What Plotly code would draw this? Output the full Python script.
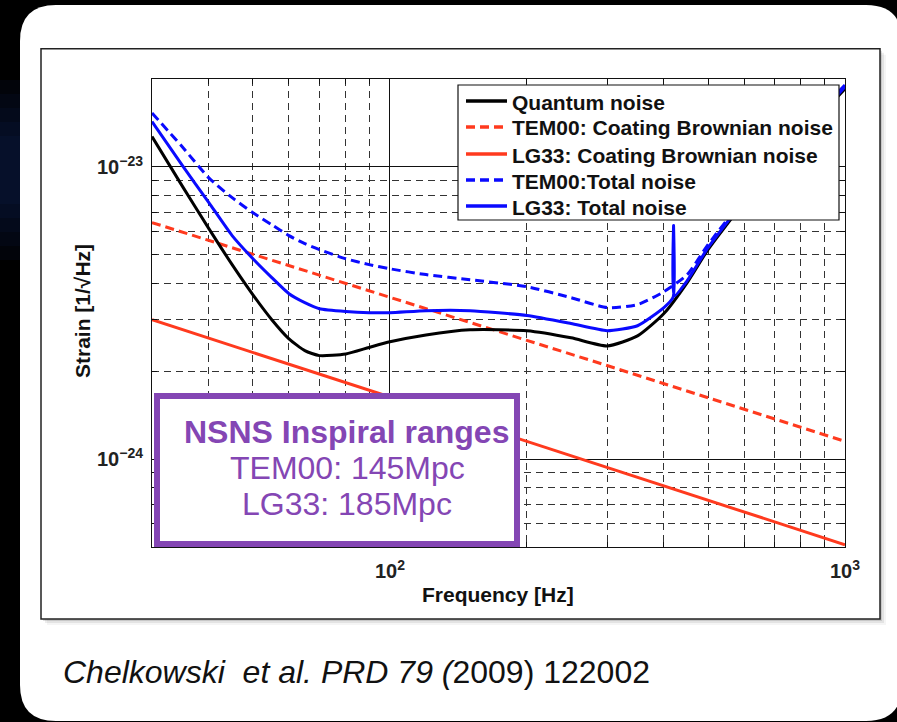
import plotly.graph_objects as go
import math

# ---------------- data ----------------
freq = [30, 35, 40, 45, 50, 55, 60, 65, 70, 80, 90, 100, 120, 150, 200, 250,
        300, 350, 400, 450, 500, 600, 700, 800, 900, 1000]
quantum = [1.27e-23, 8.58e-24, 6.15e-24, 4.63e-24, 3.65e-24, 3.00e-24, 2.58e-24,
           2.35e-24, 2.26e-24, 2.29e-24, 2.41e-24, 2.52e-24, 2.66e-24, 2.77e-24,
           2.75e-24, 2.60e-24, 2.44e-24, 2.64e-24, 3.15e-24, 4.02e-24, 5.21e-24,
           7.55e-24, 9.87e-24, 1.26e-23, 1.55e-23, 1.85e-23]
tem00_total = [1.53e-23, 1.17e-23, 9.17e-24, 7.85e-24, 6.97e-24, 6.34e-24, 5.82e-24,
               5.46e-24, 5.21e-24, 4.85e-24, 4.63e-24, 4.48e-24, 4.28e-24, 4.11e-24,
               3.89e-24, 3.57e-24, 3.30e-24, 3.38e-24, 3.74e-24, 4.28e-24, 5.42e-24,
               7.79e-24, 1.02e-23, 1.30e-23, 1.60e-23, 1.91e-23]

lg33_freq = [30, 35, 40, 45, 50, 55, 60, 65, 70, 80, 90, 100, 120, 150, 200, 250,
             300, 350, 400, 419, 420, 421, 450, 500, 600, 700, 800, 900, 1000]
lg33_total = [1.43e-23, 1.01e-23, 7.55e-24, 5.82e-24, 4.85e-24, 4.18e-24, 3.68e-24,
              3.43e-24, 3.27e-24, 3.20e-24, 3.17e-24, 3.17e-24, 3.22e-24, 3.22e-24,
              3.10e-24, 2.91e-24, 2.75e-24, 2.86e-24, 3.30e-24, 3.58e-24, 6.30e-24,
              3.61e-24, 4.08e-24, 5.29e-24, 7.67e-24, 1.00e-23, 1.28e-23, 1.57e-23,
              1.88e-23]

coat_freq = [30, 100, 300, 1000]
tem00_coating = [6.45e-24, 3.58e-24, 2.09e-24, 1.15e-24]
lg33_coating = [3.00e-24, 1.63e-24, 9.35e-25, 5.09e-25]

legend_labels = ["Quantum noise", "TEM00: Coating Brownian noise",
                 "LG33: Coating Brownian noise", "TEM00:Total noise",
                 "LG33: Total noise"]
x_tickvals = [100, 1000]
x_ticktext = ["<b>10<sup>2</sup></b>", "<b>10<sup>3</sup></b>"]
y_tickvals = [1e-24, 1e-23]
y_ticktext = ["<b>10<sup>\u221224</sup></b>", "<b>10<sup>\u221223</sup></b>"]
x_minor = [40, 50, 60, 70, 80, 90, 200, 300, 400, 500, 600, 700, 800, 900]
y_minor = [6e-25, 7e-25, 8e-25, 9e-25, 2e-24, 3e-24, 4e-24, 5e-24, 6e-24, 7e-24,
           8e-24, 9e-24]

# ---------------- layout geometry ----------------
W, H = 897, 722
ML, MR, MT, MB = 152, 52, 79, 175
PW, PH = W - ML - MR, H - MT - MB
FONT = "Liberation Sans, Arial, sans-serif"

def X(px):
    return (px - ML) / PW

def Y(py):
    return (H - MB - py) / PH

BLACK = "#000000"
RED = "#ff3a1e"
BLUE = "#0a0aff"
PURPLE = "#8446b4"
DASH = "9px,5px"

fig = go.Figure()
fig.add_trace(go.Scatter(x=coat_freq, y=lg33_coating, mode="lines",
                         line=dict(color=RED, width=3), showlegend=False))
fig.add_trace(go.Scatter(x=coat_freq, y=tem00_coating, mode="lines",
                         line=dict(color=RED, width=3, dash=DASH), showlegend=False))
fig.add_trace(go.Scatter(x=freq, y=quantum, mode="lines",
                         line=dict(color=BLACK, width=3, shape="spline", smoothing=0.6),
                         showlegend=False))
fig.add_trace(go.Scatter(x=freq, y=tem00_total, mode="lines",
                         line=dict(color=BLUE, width=3, dash=DASH, shape="spline",
                                   smoothing=0.6), showlegend=False))
fig.add_trace(go.Scatter(x=lg33_freq, y=lg33_total, mode="lines",
                         line=dict(color=BLUE, width=3, shape="spline", smoothing=0.5),
                         showlegend=False))

shapes = []

def rrect_path(x0, y0, x1, y1, r):
    return (f"M {X(x0+r)},{Y(y0)} L {X(x1-r)},{Y(y0)} Q {X(x1)},{Y(y0)} {X(x1)},{Y(y0+r)} "
            f"L {X(x1)},{Y(y1-r)} Q {X(x1)},{Y(y1)} {X(x1-r)},{Y(y1)} "
            f"L {X(x0+r)},{Y(y1)} Q {X(x0)},{Y(y1)} {X(x0)},{Y(y1-r)} "
            f"L {X(x0)},{Y(y0+r)} Q {X(x0)},{Y(y0)} {X(x0+r)},{Y(y0)} Z")

# faint blue glow on left edge of the dark background
for i in range(5):
    shapes.append(dict(type="rect", xref="paper", yref="paper", layer="below",
                       x0=X(0), x1=X(22), y0=Y(80 + 14 * i), y1=Y(260 - 14 * i),
                       fillcolor="rgba(25,50,140,0.07)", line=dict(width=0)))
# white card (right side runs off the page, rounded corners top/bottom right)
shapes.append(dict(type="path", xref="paper", yref="paper", layer="below",
                   path=rrect_path(20, 5, 902, 721, 36),
                   fillcolor="white", line=dict(width=0)))
shapes.append(dict(type="rect", xref="paper", yref="paper", layer="below",
                   x0=X(860), x1=X(905), y0=Y(42), y1=Y(684),
                   fillcolor="white", line=dict(width=0)))
# figure box shadow
for off, a in [(6, 0.04), (4, 0.07), (2, 0.12)]:
    shapes.append(dict(type="rect", xref="paper", yref="paper", layer="below",
                       x0=X(41 + off), x1=X(880 + off), y0=Y(48.7 + off), y1=Y(619 + off),
                       fillcolor=f"rgba(0,0,0,{a})", line=dict(width=0)))
# figure box
shapes.append(dict(type="rect", xref="paper", yref="paper", layer="below",
                   x0=X(41), x1=X(880), y0=Y(48.7), y1=Y(619),
                   fillcolor="white", line=dict(color="#222", width=1.5)))

# NSNS box
shapes.append(dict(type="rect", xref="paper", yref="paper", layer="above",
                   x0=X(157), x1=X(517), y0=Y(396), y1=Y(544),
                   fillcolor="white", line=dict(color=PURPLE, width=6)))

# legend box
shapes.append(dict(type="rect", xref="paper", yref="paper", layer="above",
                   x0=X(458), x1=X(839), y0=Y(85), y1=Y(220),
                   fillcolor="white", line=dict(color="#111", width=1.2)))
leg_rows = [101, 127, 154, 180, 206]
leg_styles = [(BLACK, "solid"), (RED, DASH), (RED, "solid"), (BLUE, DASH), (BLUE, "solid")]
annotations = []
for row, (col, dash), lab in zip(leg_rows, leg_styles, legend_labels):
    shapes.append(dict(type="line", xref="paper", yref="paper", layer="above",
                       x0=X(466), x1=X(507), y0=Y(row), y1=Y(row),
                       line=dict(color=col, width=3.5, dash=dash)))
    annotations.append(dict(xref="paper", yref="paper", x=X(510), y=Y(row + 1),
                            xanchor="left", yanchor="middle", showarrow=False,
                            text=f"<b>{lab}</b>",
                            font=dict(family=FONT, size=21, color="#111")))

# NSNS text
annotations.append(dict(xref="paper", yref="paper", x=X(346), y=Y(432), showarrow=False,
                        xanchor="center", yanchor="middle",
                        text="<b>NSNS Inspiral ranges</b>",
                        font=dict(family=FONT, size=32, color=PURPLE)))
annotations.append(dict(xref="paper", yref="paper", x=X(347), y=Y(468), showarrow=False,
                        xanchor="center", yanchor="middle", text="TEM00: 145Mpc",
                        font=dict(family=FONT, size=32, color=PURPLE)))
annotations.append(dict(xref="paper", yref="paper", x=X(347), y=Y(504), showarrow=False,
                        xanchor="center", yanchor="middle", text="LG33: 185Mpc",
                        font=dict(family=FONT, size=32, color=PURPLE)))

# axis titles
annotations.append(dict(xref="paper", yref="paper", x=X(498), y=Y(594), showarrow=False,
                        xanchor="center", yanchor="middle", text="<b>Frequency [Hz]</b>",
                        font=dict(family=FONT, size=21, color="#111")))
annotations.append(dict(xref="paper", yref="paper", x=X(82), y=Y(311), showarrow=False,
                        xanchor="center", yanchor="middle", textangle=-90,
                        text="<b>Strain [1/\u221aHz]</b>",
                        font=dict(family=FONT, size=21, color="#111")))

# caption
annotations.append(dict(xref="paper", yref="paper", x=X(61), y=Y(672), showarrow=False,
                        xanchor="left", yanchor="middle",
                        text="<i>Chelkowski  et al. PRD 79 (</i>2009) 122002",
                        font=dict(family=FONT, size=32, color="#111")))

grid_dash = "7px,5px"
axis_common = dict(
    showline=True, linecolor="#111", linewidth=1, mirror="allticks",
    ticks="inside", ticklen=6, tickcolor="#111",
    showgrid=True, gridcolor="#111", gridwidth=1,
    tickfont=dict(family=FONT, size=20, color="#222"),
    automargin=False, zeroline=False, tickmode="array",
)

fig.update_layout(
    width=W, height=H,
    margin=dict(l=ML, r=MR, t=MT, b=MB, pad=0),
    paper_bgcolor="black", plot_bgcolor="white",
    showlegend=False,
    shapes=shapes, annotations=annotations,
    xaxis=dict(type="log", range=[math.log10(30), 3],
               tickvals=x_tickvals, ticktext=x_ticktext, ticklabelstandoff=6,
               minor=dict(tickmode="array", tickvals=x_minor, showgrid=True,
                          griddash=grid_dash, gridcolor="#333", gridwidth=1,
                          ticks="inside", ticklen=5, tickcolor="#111"),
               **axis_common),
    yaxis=dict(type="log", range=[math.log10(5e-25), math.log10(2e-23)],
               tickvals=y_tickvals, ticktext=y_ticktext, ticklabelstandoff=4,
               minor=dict(tickmode="array", tickvals=y_minor, showgrid=True,
                          griddash=grid_dash, gridcolor="#333", gridwidth=1,
                          ticks="inside", ticklen=5, tickcolor="#111"),
               **axis_common),
)

fig.write_html(
    "out.html",
    post_script="document.documentElement.style.overflow='hidden';"
                "document.body.style.overflow='hidden';document.body.style.margin='0';",
)
